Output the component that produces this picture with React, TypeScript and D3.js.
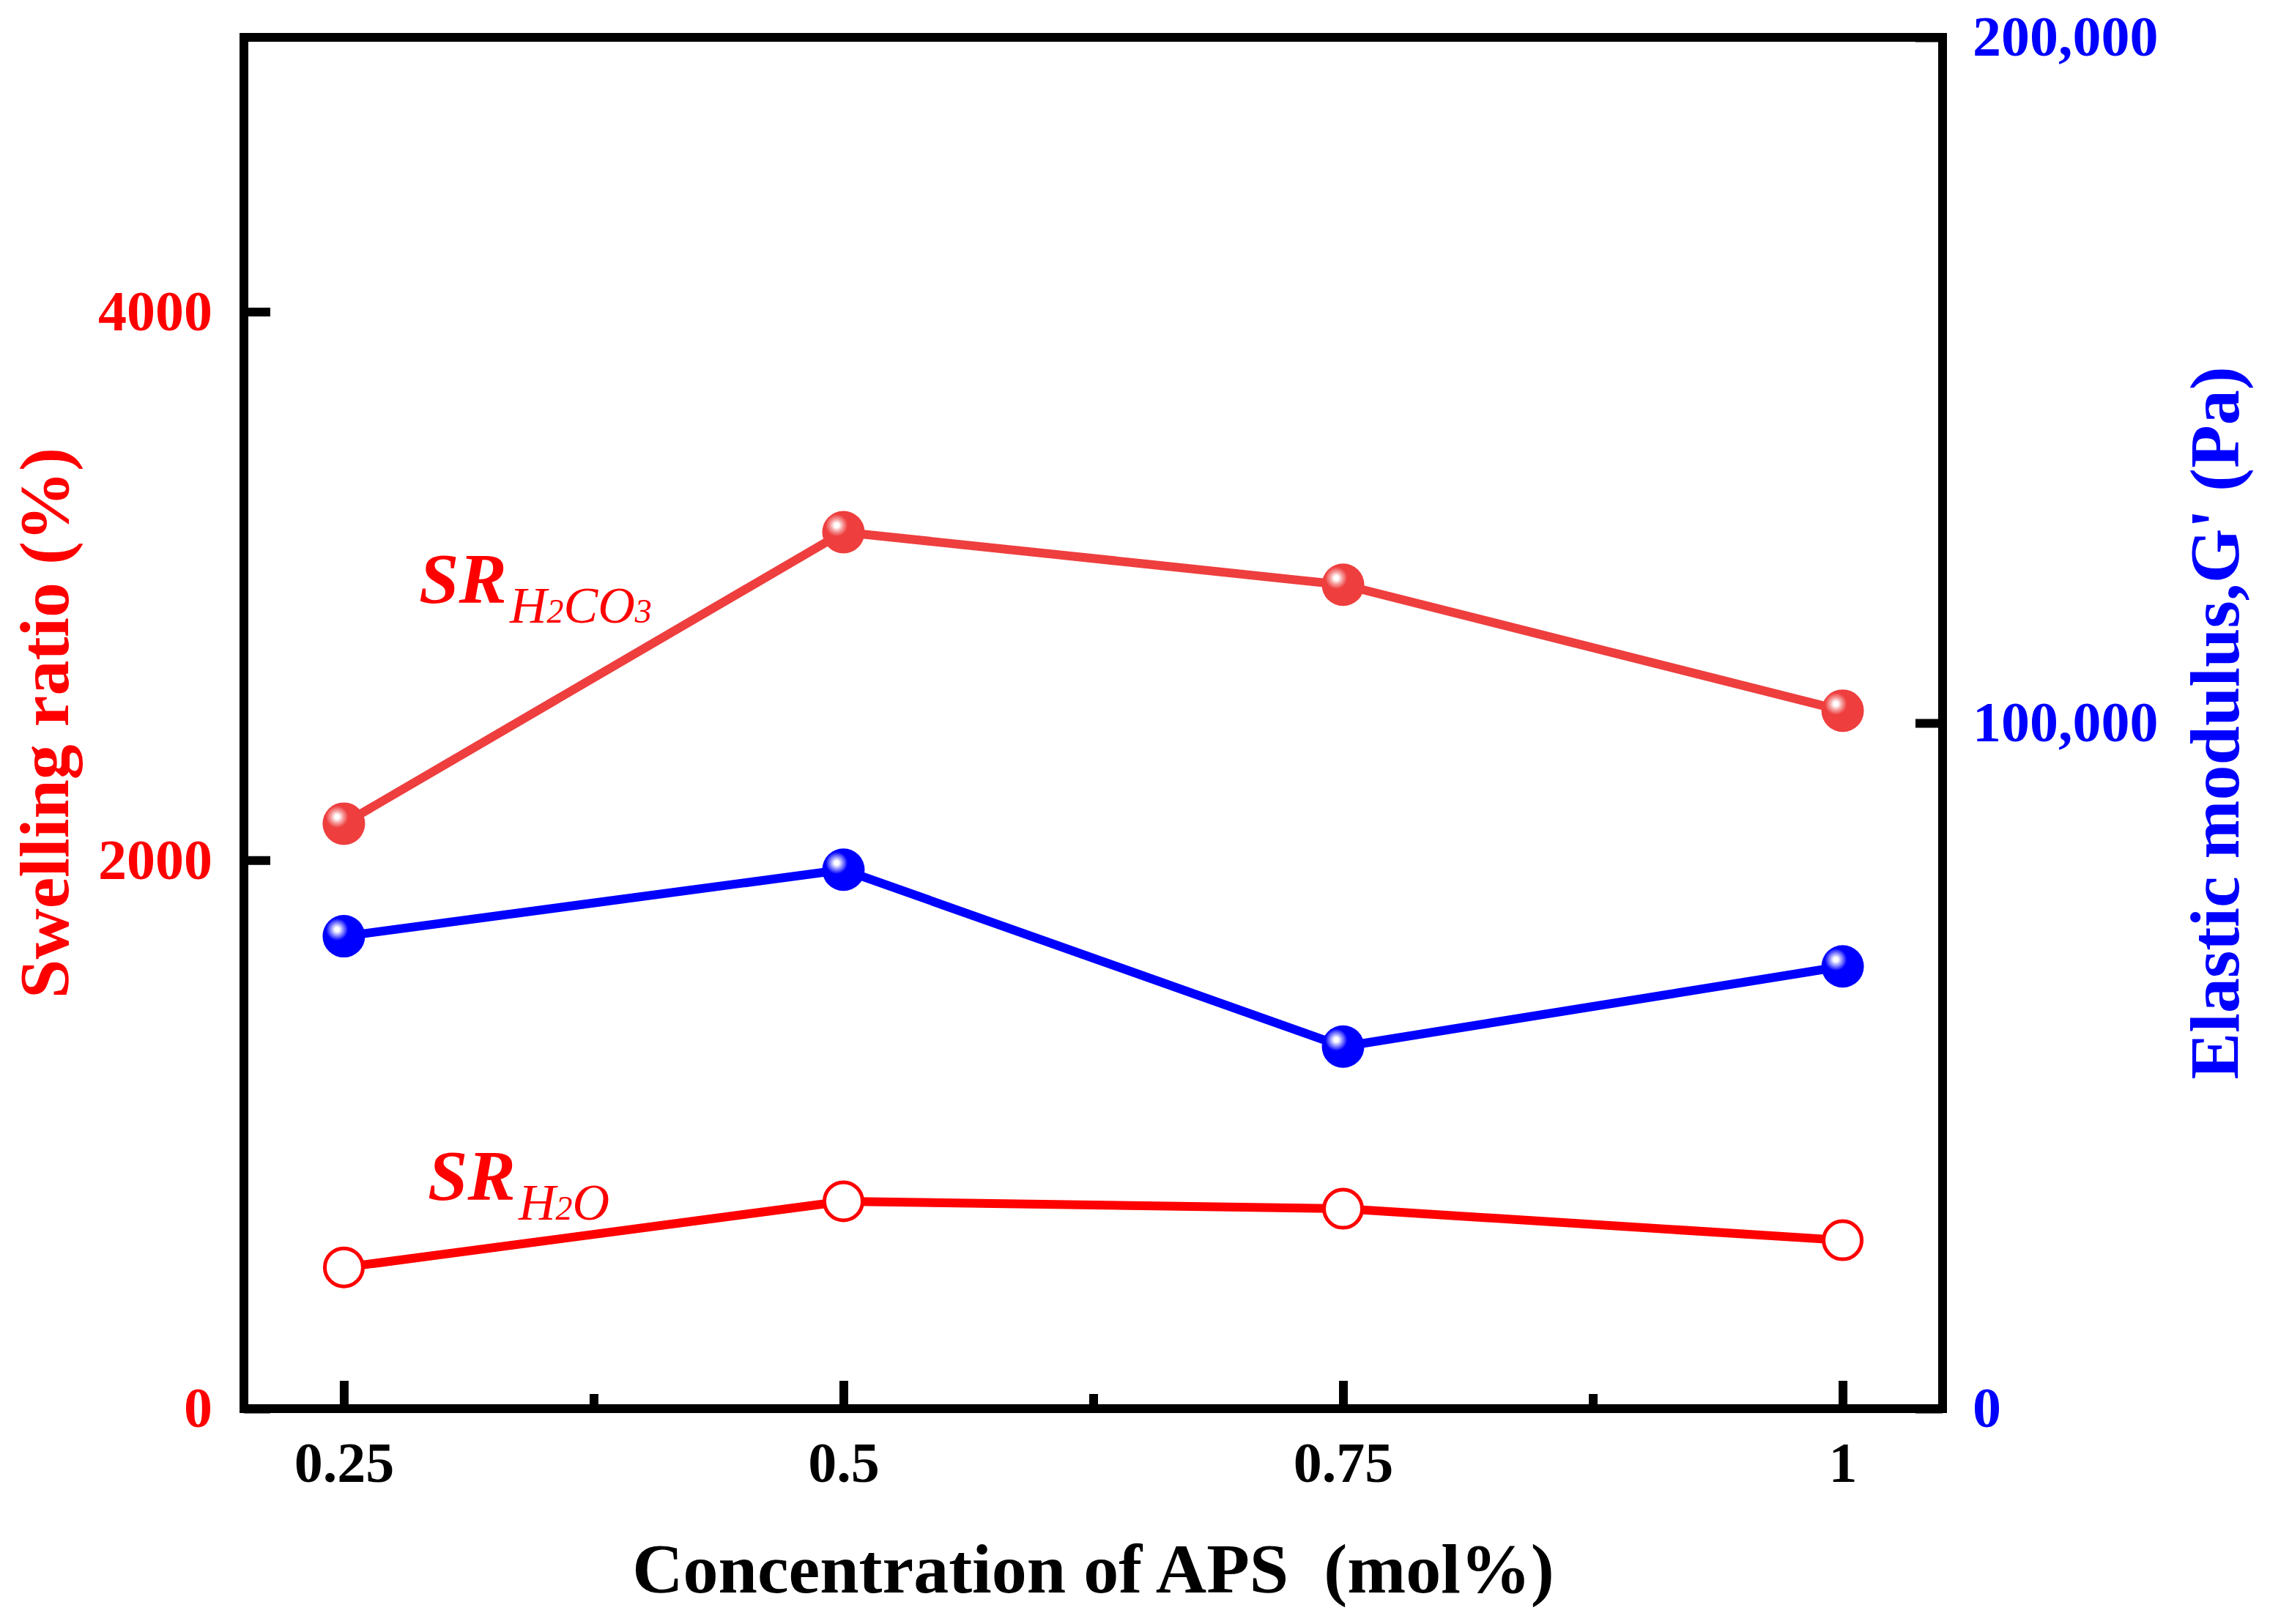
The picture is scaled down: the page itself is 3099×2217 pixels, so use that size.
import * as d3 from 'd3';
import React, { useEffect } from 'react';

// APS concentration (mol%)
const concentrations = [0.25, 0.5, 0.75, 1];
// swelling ratio (%) in carbonated water and in pure water
const swellingH2CO3 = [2133, 3196, 3004, 2545];
const swellingH2O = [515, 756, 729, 614];
// storage modulus G' (Pa)
const elasticModulus = [68900, 78600, 52800, 64500];

const xMajorTicks = [0.25, 0.5, 0.75, 1];
const xMinorTicks = [0.375, 0.625, 0.875];
const leftTicks = [0, 2000, 4000];
const rightTicks = [0, 100000, 200000];

const FONT = '"Times New Roman", "Liberation Serif", serif';

export default function App() {
  const ref = React.useRef<SVGSVGElement>(null);

  useEffect(() => {
    if (!ref.current) return;
    const svg = d3.select(ref.current);
    svg.selectAll('*').remove();

    const W = 3099;
    const H = 2217;
    const plot = { left: 333, right: 2652, top: 51, bottom: 1923 };

    const x = d3.scaleLinear().domain([0.2, 1.05]).range([plot.left, plot.right]);
    const yLeft = d3.scaleLinear().domain([0, 5000]).range([plot.bottom, plot.top]);
    const yRight = d3.scaleLinear().domain([0, 200000]).range([plot.bottom, plot.top]);

    svg.attr('width', W).attr('height', H);
    svg.append('rect').attr('width', W).attr('height', H).attr('fill', '#fff');

    // glossy ball markers: small highlight spot toward the upper left
    const defs = svg.append('defs');
    const ball = (id: string, base: string, mid: string) => {
      const g = defs
        .append('radialGradient')
        .attr('id', id)
        .attr('cx', 0.34)
        .attr('cy', 0.34)
        .attr('r', 0.26);
      g.append('stop').attr('offset', 0).attr('stop-color', '#ffffff');
      g.append('stop').attr('offset', 0.2).attr('stop-color', '#ffffff');
      g.append('stop').attr('offset', 0.55).attr('stop-color', mid);
      g.append('stop').attr('offset', 1).attr('stop-color', base);
    };
    ball('ballRed', '#ee3e3e', '#f6a0a0');
    ball('ballBlue', '#0000ff', '#9090ff');

    const lineW = 12;

    const drawSeries = (
      values: number[],
      y: d3.ScaleLinear<number, number>,
      color: string,
      marker: 'ball' | 'open',
      gradId?: string
    ) => {
      const pts = concentrations.map((c, i) => [x(c), y(values[i])] as [number, number]);
      svg
        .append('path')
        .attr('d', d3.line()(pts))
        .attr('fill', 'none')
        .attr('stroke', color)
        .attr('stroke-width', lineW)
        .attr('stroke-linejoin', 'round');
      const g = svg.append('g');
      if (marker === 'ball') {
        g.selectAll('circle')
          .data(pts)
          .enter()
          .append('circle')
          .attr('cx', d => d[0])
          .attr('cy', d => d[1])
          .attr('r', 29)
          .attr('fill', `url(#${gradId})`);
      } else {
        g.selectAll('circle')
          .data(pts)
          .enter()
          .append('circle')
          .attr('cx', d => d[0])
          .attr('cy', d => d[1])
          .attr('r', 26)
          .attr('fill', '#fff')
          .attr('stroke', color)
          .attr('stroke-width', 5);
      }
    };

    drawSeries(swellingH2CO3, yLeft, '#ee3e3e', 'ball', 'ballRed');
    drawSeries(elasticModulus, yRight, '#0000ff', 'ball', 'ballBlue');
    drawSeries(swellingH2O, yLeft, '#ff0000', 'open');

    // frame
    svg
      .append('rect')
      .attr('x', plot.left)
      .attr('y', plot.top)
      .attr('width', plot.right - plot.left)
      .attr('height', plot.bottom - plot.top)
      .attr('fill', 'none')
      .attr('stroke', '#000')
      .attr('stroke-width', lineW);

    const styleAxis = (g: d3.Selection<SVGGElement, unknown, null, undefined>, color: string) => {
      g.select('.domain').remove();
      g.selectAll('line').attr('stroke', '#000').attr('stroke-width', lineW);
      g.selectAll('text')
        .attr('fill', color)
        .attr('font-family', FONT)
        .attr('font-weight', 'bold')
        .attr('font-size', 78);
    };

    // bottom axis
    const xAxis = svg
      .append('g')
      .attr('transform', `translate(0,${plot.bottom})`)
      .call(
        d3
          .axisBottom(x)
          .tickValues(xMajorTicks)
          .tickSize(-38)
          .tickPadding(45)
          .tickFormat(d => String(d))
      );
    styleAxis(xAxis, '#000');
    const xMinor = svg
      .append('g')
      .attr('transform', `translate(0,${plot.bottom})`)
      .call(d3.axisBottom(x).tickValues(xMinorTicks).tickSize(-20).tickFormat(() => ''));
    styleAxis(xMinor, '#000');

    // left axis
    const yAxisL = svg
      .append('g')
      .attr('transform', `translate(${plot.left},0)`)
      .call(d3.axisLeft(yLeft).tickValues(leftTicks).tickSize(-36).tickPadding(43).tickFormat(d3.format('d')));
    styleAxis(yAxisL, '#ff0000');

    // right axis
    const yAxisR = svg
      .append('g')
      .attr('transform', `translate(${plot.right},0)`)
      .call(d3.axisRight(yRight).tickValues(rightTicks).tickSize(-37).tickPadding(41).tickFormat(d3.format(',')));
    styleAxis(yAxisR, '#0000ff');

    // axis titles
    svg
      .append('text')
      .attr('x', (plot.left + plot.right) / 2)
      .attr('y', 2174)
      .attr('text-anchor', 'middle')
      .attr('font-family', FONT)
      .attr('font-weight', 'bold')
      .attr('font-size', 96)
      .attr('fill', '#000')
      .style('white-space', 'pre')
      .text('Concentration of APS  (mol%)');

    svg
      .append('text')
      .attr('transform', `translate(93,${(plot.top + plot.bottom) / 2}) rotate(-90)`)
      .attr('text-anchor', 'middle')
      .attr('font-family', FONT)
      .attr('font-weight', 'bold')
      .attr('font-size', 96)
      .attr('fill', '#ff0000')
      .text('Swelling ratio (%)');

    svg
      .append('text')
      .attr('transform', `translate(3056,${(plot.top + plot.bottom) / 2}) rotate(-90)`)
      .attr('text-anchor', 'middle')
      .attr('font-family', FONT)
      .attr('font-weight', 'bold')
      .attr('font-size', 96)
      .attr('fill', '#0000ff')
      .text("Elastic modulus,G' (Pa)");

    // series labels: SR with chemical subscripts
    const seriesLabel = (
      px: number,
      py: number,
      parts: { t: string; size: number }[]
    ) => {
      const t = svg
        .append('text')
        .attr('x', px)
        .attr('y', py)
        .attr('font-family', FONT)
        .attr('font-weight', 'bold')
        .attr('font-style', 'italic')
        .attr('fill', '#ff0000');
      t.append('tspan').attr('font-size', 98).text('SR');
      parts.forEach((p, i) => {
        const s = t.append('tspan').attr('font-size', p.size).attr('font-weight', 'normal').text(p.t);
        if (i === 0) s.attr('dy', 27).attr('dx', 4);
      });
    };
    seriesLabel(572, 823, [
      { t: 'H', size: 70 },
      { t: '2', size: 46 },
      { t: 'CO', size: 70 },
      { t: '3', size: 46 },
    ]);
    seriesLabel(584, 1638, [
      { t: 'H', size: 70 },
      { t: '2', size: 46 },
      { t: 'O', size: 70 },
    ]);
  }, []);

  return <svg ref={ref} style={{ position: 'absolute', left: 0, top: 0, display: 'block' }} />;
}
